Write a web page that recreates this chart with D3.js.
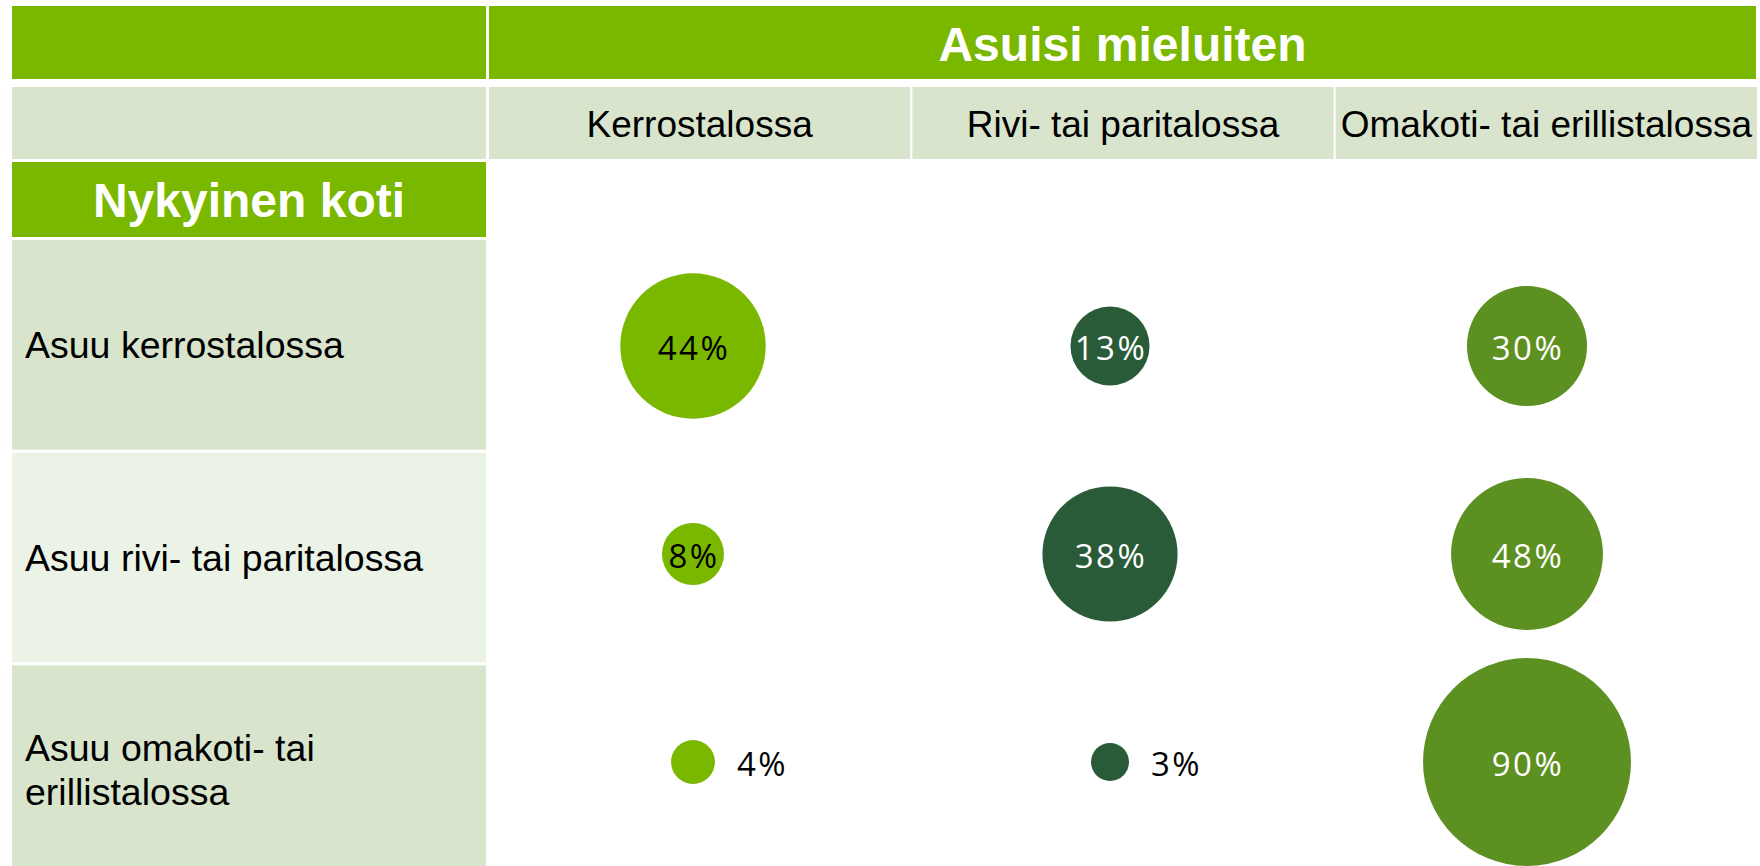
<!DOCTYPE html>
<html>
<head>
<meta charset="utf-8">
<script src="https://cdn.jsdelivr.net/npm/d3@7"></script>
<style>
  html, body { margin: 0; padding: 0; background: #ffffff; }
  svg { display: block; }
</style>
</head>
<body>
<svg id="chart" width="1760" height="866"></svg>
<script>
// ---- data ----
const headerTitle = "Asuisi mieluiten";
const rowHeaderTitle = "Nykyinen koti";
const colLabels = ["Kerrostalossa", "Rivi- tai paritalossa", "Omakoti- tai erillistalossa"];
const rowLabels = ["Asuu kerrostalossa", "Asuu rivi- tai paritalossa", "Asuu omakoti- tai erillistalossa"];
const rowLabelLines = [["Asuu kerrostalossa"], ["Asuu rivi- tai paritalossa"], ["Asuu omakoti- tai", "erillistalossa"]];
const kerrostaloValues = [44, 8, 4];   // column "Kerrostalossa", per row
const riviValues = [13, 38, 3];        // column "Rivi- tai paritalossa"
const omakotiValues = [30, 48, 90];    // column "Omakoti- tai erillistalossa"

// ---- styles ----
const C_GREEN = "#7ab800";
const C_LIGHT = "#d8e4cb";
const C_LIGHTER = "#ebf2e6";
const bubbleColors = ["#7ab800", "#2a5b38", "#5c9122"];
const bubbleTextColors = ["#000000", "#ffffff", "#ffffff"];
const tableFont = "'Liberation Sans', Arial, sans-serif";
const bubbleFont = "'Open Sans', 'DejaVu Sans', sans-serif";

const seriesByCol = [kerrostaloValues, riviValues, omakotiValues];
const cells = [];
rowLabels.forEach((r, ri) => colLabels.forEach((c, ci) => cells.push({row: r, col: c, ci, value: seriesByCol[ci][ri]})));

const svg = d3.select("#chart");

// ---- table scales ----
const cellX = d3.scaleBand().domain(colLabels).range([489, 1757]).paddingInner(0.005);
const cellY = d3.scaleBand().domain(rowLabels).range([240, 875]).paddingInner(0.014);
const leftX0 = 12, leftX1 = 486;

// ---- bubble scales ----
const bx = d3.scaleBand().domain(colLabels).range([484.5, 1735.5]);
const by = d3.scaleBand().domain(rowLabels).range([242, 866]);
const r = d3.scaleSqrt().domain([0, 90]).range([0, 104]);

// top band
svg.append("rect").attr("x", leftX0).attr("y", 6).attr("width", leftX1 - leftX0).attr("height", 73).attr("fill", C_GREEN);
svg.append("rect").attr("x", 489).attr("y", 6).attr("width", 1756 - 489).attr("height", 73).attr("fill", C_GREEN);
svg.append("text").attr("x", (489 + 1756) / 2).attr("y", 61)
  .attr("text-anchor", "middle").attr("font-family", tableFont).attr("font-weight", "bold")
  .attr("font-size", 48).attr("fill", "#ffffff").text(headerTitle);

// column header row
svg.append("rect").attr("x", leftX0).attr("y", 87).attr("width", leftX1 - leftX0).attr("height", 72).attr("fill", C_LIGHT);
svg.selectAll("rect.colhead").data(colLabels).join("rect").attr("class", "colhead")
  .attr("x", d => cellX(d)).attr("y", 87).attr("width", cellX.bandwidth()).attr("height", 72).attr("fill", C_LIGHT);
svg.selectAll("text.colhead").data(colLabels).join("text").attr("class", "colhead")
  .attr("x", d => cellX(d) + cellX.bandwidth() / 2).attr("y", 136.5)
  .attr("text-anchor", "middle").attr("font-family", tableFont).attr("font-size", 37).attr("fill", "#000")
  .text(d => d);

// "Nykyinen koti"
svg.append("rect").attr("x", leftX0).attr("y", 162).attr("width", leftX1 - leftX0).attr("height", 75).attr("fill", C_GREEN);
svg.append("text").attr("x", (leftX0 + leftX1) / 2).attr("y", 216.5)
  .attr("text-anchor", "middle").attr("font-family", tableFont).attr("font-weight", "bold")
  .attr("font-size", 48).attr("fill", "#ffffff").text(rowHeaderTitle);

// row label cells
svg.selectAll("rect.rowhead").data(rowLabels).join("rect").attr("class", "rowhead")
  .attr("x", leftX0).attr("y", d => cellY(d)).attr("width", leftX1 - leftX0).attr("height", cellY.bandwidth())
  .attr("fill", (d, i) => i === 1 ? C_LIGHTER : C_LIGHT);
const lineH = 44;
svg.selectAll("text.rowhead").data(rowLabels).join("text").attr("class", "rowhead")
  .attr("font-family", tableFont).attr("font-size", 37.5).attr("fill", "#000")
  .each(function(d, i) {
    const lines = rowLabelLines[i];
    const mid = cellY(d) + cellY.bandwidth() / 2;
    const first = mid + 13.3 - (lines.length - 1) * lineH / 2;
    d3.select(this).selectAll("tspan").data(lines).join("tspan")
      .attr("x", 25).attr("y", (l, j) => first + j * lineH).text(l => l);
  });

// bubbles
const g = svg.append("g");
g.selectAll("circle").data(cells).join("circle")
  .attr("cx", d => bx(d.col) + bx.bandwidth() / 2)
  .attr("cy", d => by(d.row) + by.bandwidth() / 2)
  .attr("r", d => r(d.value))
  .attr("fill", d => bubbleColors[d.ci]);

g.selectAll("text").data(cells).join("text")
  .attr("x", d => {
    const cx = bx(d.col) + bx.bandwidth() / 2;
    return d.value < 5 ? cx + r(d.value) + 22 : cx + 1;
  })
  .attr("y", d => by(d.row) + by.bandwidth() / 2 + 14)
  .attr("text-anchor", d => d.value < 5 ? "start" : "middle")
  .attr("font-family", bubbleFont).attr("font-weight", 400)
  .attr("font-size", 33).attr("letter-spacing", 2.5)
  .attr("fill", d => d.value < 5 ? "#000" : bubbleTextColors[d.ci])
  .text(d => d.value + "%");
</script>
</body>
</html>
